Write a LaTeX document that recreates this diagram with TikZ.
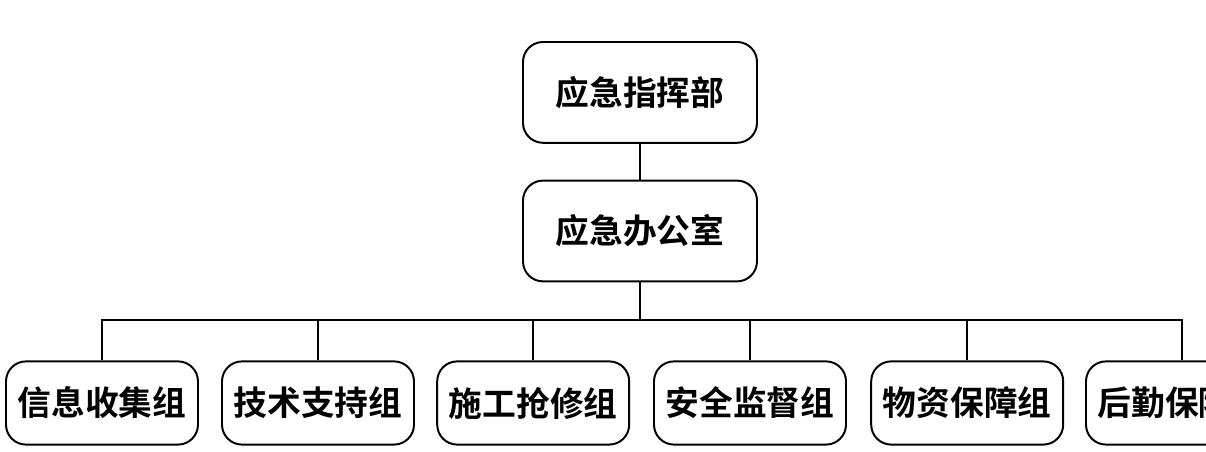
\documentclass[tikz,border=0pt]{standalone}
\usepackage{fontspec}
\newfontfamily\cjk{Noto Sans CJK SC Bold}
\usetikzlibrary{positioning}
\begin{document}
\begin{tikzpicture}[line width=1.4pt]
        \tikzstyle{unit} = [rectangle, rounded corners=0.5cm, draw=black, text centered, font=\cjk\fontsize{24}{28}\selectfont]
        \tikzstyle{group} = [unit, minimum width=4.8cm, minimum height=2.08cm]
        \tikzstyle{link} = [draw=black, line width=1.4pt]
        \useasboundingbox (0,0) rectangle (30.15,11.3);
        \clip (0,0) rectangle (30.15,11.3);

        % Nodes
        \node (command) [unit, minimum width=5.85cm, minimum height=2.52cm] at (16,8.99) {应急指挥部};
        \node (office) [unit, minimum width=5.85cm, minimum height=2.52cm] at (16,5.525) {应急办公室};
        \node (g1) [group] at (2.55,1.225) {信息收集组};
        \node (g2) [group] at (7.95,1.225) {技术支持组};
        \node (g3) [group] at (13.33,1.225) {施工抢修组};
        \node (g4) [group] at (18.75,1.225) {安全监督组};
        \node (g5) [group] at (24.18,1.225) {物资保障组};
        \node (g6) [group] at (29.55,1.225) {后勤保障组};

        % Lines
        \draw [link] (command) -- (office);
        \foreach \g in {g1,g2,g3,g4,g5,g6}
            \draw [link] (office.south) -- ++(0,-0.93) -| (\g.north);
    \end{tikzpicture}
\end{document}
